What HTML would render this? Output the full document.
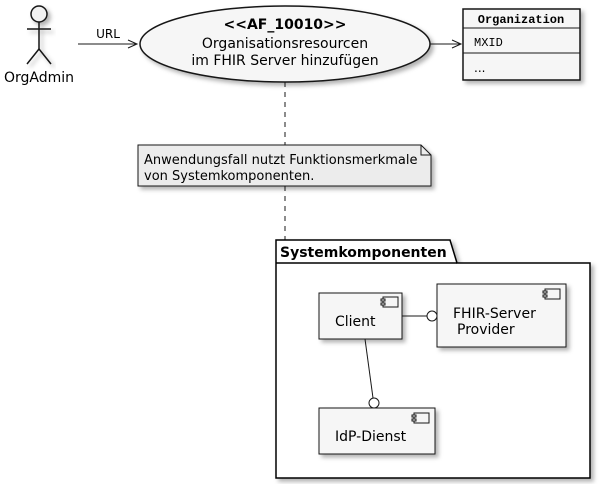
<!DOCTYPE html>
<html><head><meta charset="utf-8"><style>html,body{margin:0;padding:0;background:#fff}svg{display:block}</style></head><body>
<svg width="607" height="484" viewBox="0 0 607 484" xmlns="http://www.w3.org/2000/svg" font-family="'DejaVu Sans','Liberation Sans',sans-serif">
<defs><filter id="sh" x="-10%" y="-10%" width="130%" height="130%"><feDropShadow dx="3" dy="3" stdDeviation="2" flood-color="#000" flood-opacity="0.3"/></filter></defs>
<g stroke="#181818" stroke-width="1.5" fill="#f1f1f1" filter="url(#sh)">
<circle cx="39" cy="14" r="8"/>
<line x1="39" y1="22" x2="39" y2="49"/>
<line x1="27" y1="29" x2="51" y2="29"/>
<polyline fill="none" points="27,64 39,49 51,64"/>
</g>
<text x="39" y="82" font-size="14" text-anchor="middle" fill="#000">OrgAdmin</text>
<g stroke="#181818" stroke-width="1" fill="none">
<line x1="78" y1="44" x2="137" y2="44"/>
<polyline points="128,40 137,44 128,48"/>
<line x1="430" y1="44" x2="461" y2="44"/>
<polyline points="452,40 461,44 452,48"/>
<line x1="285" y1="82" x2="285" y2="145" stroke-dasharray="5,5"/>
<line x1="285" y1="186" x2="285" y2="240" stroke-dasharray="5,5"/>
</g>
<text x="108" y="38" font-size="12" text-anchor="middle">URL</text>
<ellipse cx="285" cy="44" rx="145" ry="38" fill="#f6f6f6" stroke="#181818" stroke-width="1.5" filter="url(#sh)"/>
<text x="285" y="29" font-size="14" font-weight="bold" text-anchor="middle">&lt;&lt;AF_10010&gt;&gt;</text>
<text x="285" y="48" font-size="14" text-anchor="middle">Organisationsresourcen</text>
<text x="285" y="65" font-size="14" text-anchor="middle">im FHIR Server hinzufügen</text>
<rect x="463" y="9" width="117" height="71" fill="#f6f6f6" stroke="#181818" stroke-width="1.5" filter="url(#sh)"/>
<line x1="463" y1="28" x2="580" y2="28" stroke="#181818"/>
<line x1="463" y1="53" x2="580" y2="53" stroke="#181818"/>
<text x="521" y="23" font-size="12" font-weight="bold" text-anchor="middle" font-family="'Liberation Mono',monospace">Organization</text>
<text x="474" y="46" font-size="12" font-family="'Liberation Mono',monospace">MXID</text>
<text x="474" y="72" font-size="12">...</text>
<path d="M138,145 H421 L431,155 V186 H138 Z" fill="#ececec" stroke="#181818" filter="url(#sh)"/>
<path d="M421,145 V155 H431" fill="none" stroke="#181818"/>
<text x="144" y="164" font-size="13">Anwendungsfall nutzt Funktionsmerkmale</text>
<text x="144" y="180" font-size="13">von Systemkomponenten.</text>
<path d="M276,240 H450 L457,263 H590 V478 H276 Z" fill="#fff" stroke="#000" stroke-width="1.5" filter="url(#sh)"/>
<line x1="276" y1="263" x2="457" y2="263" stroke="#000" stroke-width="1.5"/>
<text x="280" y="257" font-size="14" font-weight="bold">Systemkomponenten</text>
<g fill="#f6f6f6" stroke="#181818" stroke-width="1">
<rect x="319" y="293" width="83" height="46" filter="url(#sh)"/>
<rect x="437" y="284" width="129" height="63" filter="url(#sh)"/>
<rect x="319" y="408" width="116" height="46" filter="url(#sh)"/>
<rect x="383" y="297" width="15" height="10"/><rect x="381" y="299" width="4" height="2"/><rect x="381" y="303" width="4" height="2"/>
<rect x="545" y="289" width="15" height="10"/><rect x="543" y="291" width="4" height="2"/><rect x="543" y="295" width="4" height="2"/>
<rect x="414" y="413" width="15" height="10"/><rect x="412" y="415" width="4" height="2"/><rect x="412" y="419" width="4" height="2"/>
<line x1="402" y1="316" x2="427" y2="316"/>
<circle cx="432" cy="316" r="5" fill="#fff"/>
<line x1="365" y1="339" x2="373" y2="398"/>
<circle cx="374" cy="403" r="5" fill="#fff"/>
</g>
<text x="335" y="326" font-size="14">Client</text>
<text x="453" y="318" font-size="14">FHIR-Server</text>
<text x="457" y="334" font-size="14">Provider</text>
<text x="335" y="441" font-size="14">IdP-Dienst</text>
</svg>
</body></html>
